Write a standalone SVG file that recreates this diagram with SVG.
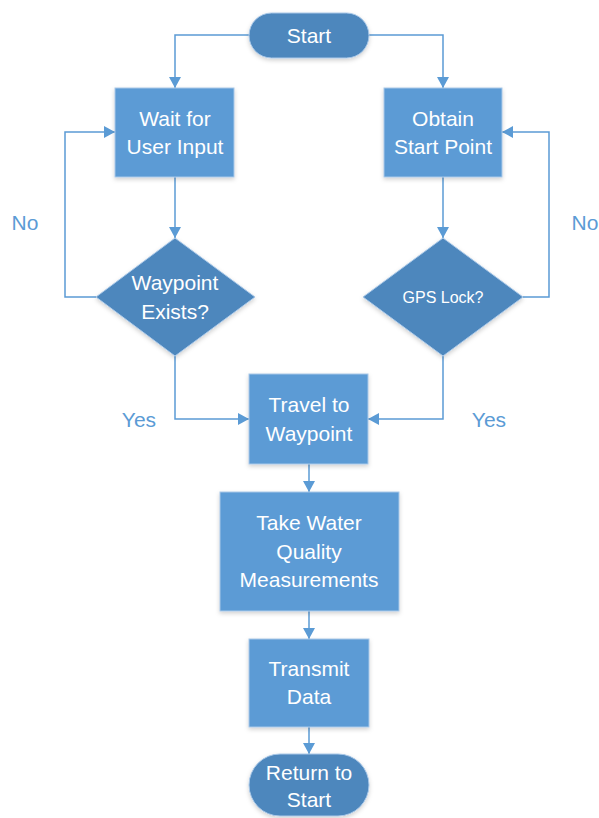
<svg xmlns="http://www.w3.org/2000/svg" width="599" height="818" viewBox="0 0 599 818">
<defs>
<marker id="arr" markerUnits="userSpaceOnUse" markerWidth="14" markerHeight="14" refX="11" refY="6" orient="auto">
<path d="M0,0 L11,6 L0,12 Z" fill="#5B9BD5"/>
</marker>
<filter id="sh" x="-20%" y="-20%" width="140%" height="150%">
<feDropShadow dx="0" dy="2" stdDeviation="2" flood-color="#000" flood-opacity="0.18"/>
</filter>
</defs>
<style>
.proc{fill:#5B9BD5;stroke:#A9C8E8;stroke-width:1;filter:url(#sh)}
.dark{fill:#4E87BD;stroke:#A9C8E8;stroke-width:1;filter:url(#sh)}
.t{font-family:"Liberation Sans",Arial,sans-serif;font-size:21px;fill:#FFFFFF;text-anchor:middle}
.s{font-size:16px}
.lbl{font-family:"Liberation Sans",Arial,sans-serif;font-size:21px;fill:#5B9BD5;text-anchor:middle}
.c{fill:none;stroke:#5B9BD5;stroke-width:1.5;marker-end:url(#arr)}
</style>
<g id="connectors">
<path class="c" d="M249,35 H175 V88"/>
<path class="c" d="M369,35 H443 V88"/>
<path class="c" d="M175,177 V238"/>
<path class="c" d="M443,177 V238"/>
<path class="c" d="M96,297 H65 V132 H115"/>
<path class="c" d="M523,297 H549 V132 H502"/>
<path class="c" d="M175,356 V419 H249"/>
<path class="c" d="M443,356 V419 H368"/>
<path class="c" d="M309,464 V492"/>
<path class="c" d="M309,611 V639"/>
<path class="c" d="M309,727 V754"/>
</g>
<g id="labels">
<text class="lbl" x="25" y="230">No</text>
<text class="lbl" x="585" y="230">No</text>
<text class="lbl" x="139" y="427">Yes</text>
<text class="lbl" x="489" y="427">Yes</text>
</g>
<g id="start">
<rect class="dark" x="249" y="13" width="120" height="45" rx="22.5"/>
<text class="t" x="309" y="43">Start</text>
</g>
<g id="wait">
<rect class="proc" x="115" y="88" width="119" height="89"/>
<text class="t" x="175" y="126">Wait for</text>
<text class="t" x="175" y="154">User Input</text>
</g>
<g id="obtain">
<rect class="proc" x="384" y="88" width="118" height="89"/>
<text class="t" x="443" y="126">Obtain</text>
<text class="t" x="443" y="154">Start Point</text>
</g>
<g id="waypoint-exists">
<polygon class="dark" points="175,238 255,297 175,356 96,297"/>
<text class="t" x="175" y="290">Waypoint</text>
<text class="t" x="175" y="319">Exists?</text>
</g>
<g id="gps-lock">
<polygon class="dark" points="443,238 523,297 443,356 363,297"/>
<text class="t s" x="443" y="303">GPS Lock?</text>
</g>
<g id="travel">
<rect class="proc" x="249" y="374" width="119" height="90"/>
<text class="t" x="309" y="412">Travel to</text>
<text class="t" x="309" y="441">Waypoint</text>
</g>
<g id="measure">
<rect class="proc" x="220" y="492" width="179" height="119"/>
<text class="t" x="309" y="530">Take Water</text>
<text class="t" x="309" y="559">Quality</text>
<text class="t" x="309" y="587">Measurements</text>
</g>
<g id="transmit">
<rect class="proc" x="249" y="639" width="120" height="88"/>
<text class="t" x="309" y="676">Transmit</text>
<text class="t" x="309" y="704">Data</text>
</g>
<g id="return">
<rect class="dark" x="249" y="754" width="120" height="62" rx="31"/>
<text class="t" x="309" y="780">Return to</text>
<text class="t" x="309" y="807">Start</text>
</g>
</svg>
